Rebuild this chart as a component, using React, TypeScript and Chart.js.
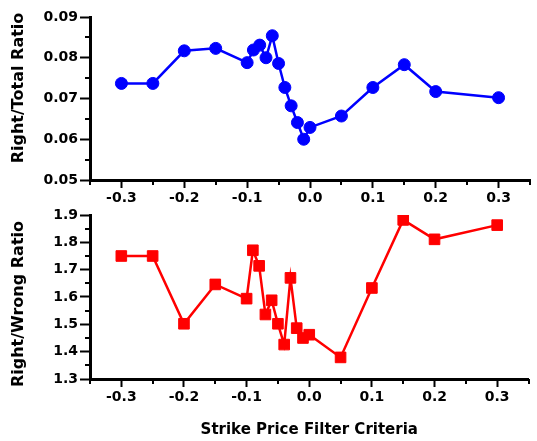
import React, { useEffect, useRef } from 'react';
import { Chart, registerables } from 'chart.js';

Chart.register(...registerables);

// ---- data ----
const strikeCriteria = [-0.3, -0.25, -0.2, -0.15, -0.1, -0.09, -0.08, -0.07, -0.06, -0.05, -0.04, -0.03, -0.02, -0.01, 0.0, 0.05, 0.1, 0.15, 0.2, 0.3];
const rightTotalRatio = [0.0737, 0.0737, 0.0817, 0.0823, 0.0788, 0.0819, 0.0831, 0.08, 0.0854, 0.0786, 0.0727, 0.0682, 0.0641, 0.06, 0.0629, 0.0657, 0.0727, 0.0783, 0.0717, 0.0702];
const rightWrongRatio = [1.75, 1.75, 1.502, 1.646, 1.594, 1.771, 1.714, 1.536, 1.588, 1.502, 1.426, 1.67, 1.486, 1.45, 1.462, 1.379, 1.633, 1.882, 1.811, 1.863];

// ---- axes ----
const xRange = [-0.35, 0.35];
const xMajorStep = 0.1;
const topYRange = [0.05, 0.09];
const topYMajorStep = 0.01;
const bottomYRange = [1.3, 1.9];
const bottomYMajorStep = 0.1;

const xTitle = 'Strike Price Filter Criteria';
const topYTitle = 'Right/Total Ratio';
const bottomYTitle = 'Right/Wrong Ratio';

const FONT = 'DejaVu Sans';

const isMajor = (v: number, step: number) => Math.abs(v / step - Math.round(v / step)) < 1e-6;

const minorTickPlugin = {
  id: 'minorTicks',
  afterDraw(chart: any) {
    const ctx = chart.ctx;
    const majors: any = chart.options.plugins.minorTicks || {};
    ctx.save();
    ctx.strokeStyle = '#000';
    ctx.lineWidth = 2;
    for (const id of ['x', 'y']) {
      const s = chart.scales[id];
      const step = majors[id];
      s.ticks.forEach((t: any) => {
        if (isMajor(t.value, step)) return;
        const p = Math.round(s.getPixelForValue(t.value));
        ctx.beginPath();
        if (s.isHorizontal()) {
          ctx.moveTo(p, s.top);
          ctx.lineTo(p, s.top + 5);
        } else {
          ctx.moveTo(s.right - 5, p);
          ctx.lineTo(s.right, p);
        }
        ctx.stroke();
      });
    }
    ctx.restore();
  },
};

const yTitlePlugin = {
  id: 'yTitleText',
  afterDraw(chart: any) {
    const o = chart.options.plugins.yTitleText;
    if (!o) return;
    const ctx = chart.ctx;
    ctx.save();
    ctx.translate(o.x, o.y);
    ctx.rotate(-Math.PI / 2);
    ctx.font = `bold ${o.size}px "${FONT}"`;
    ctx.fillStyle = '#000';
    ctx.textAlign = 'center';
    ctx.textBaseline = 'middle';
    ctx.fillText(o.text, 0, 0);
    ctx.restore();
  },
};

function makeConfig(opts: {
  values: number[];
  color: string;
  pointStyle: string;
  radius: number;
  yRange: number[];
  yMajor: number;
  yDecimals: number;
  yTitle: string;
  yTitlePos: { x: number; y: number };
  padTop: number;
  xHeight: number;
  showXTitle: boolean;
}): any {
  const tickFont = { family: FONT, size: 14, weight: 'bold' as const };
  return {
    type: 'scatter',
    data: {
      datasets: [
        {
          data: strikeCriteria.map((x, i) => ({ x, y: opts.values[i] })),
          showLine: true,
          borderColor: opts.color,
          backgroundColor: opts.color,
          borderWidth: 2.5,
          pointStyle: opts.pointStyle,
          pointRadius: opts.radius,
          pointBorderWidth: 1,
          pointBackgroundColor: opts.color,
          pointBorderColor: opts.color,
          tension: 0,
        },
      ],
    },
    options: {
      animation: false,
      responsive: false,
      maintainAspectRatio: false,
      layout: { padding: { top: opts.padTop, left: 0, right: 0, bottom: 0 } },
      plugins: {
        legend: { display: false },
        tooltip: { enabled: false },
        minorTicks: { x: xMajorStep, y: opts.yMajor },
        yTitleText: { text: opts.yTitle, x: opts.yTitlePos.x, y: opts.yTitlePos.y, size: 16 },
      },
      scales: {
        x: {
          type: 'linear',
          min: xRange[0],
          max: xRange[1],
          afterFit: (s: any) => {
            s.height = opts.xHeight;
          },
          border: { display: true, color: '#000', width: 3 },
          grid: {
            drawOnChartArea: false,
            drawTicks: true,
            tickLength: 8,
            tickWidth: 2,
            tickColor: (c: any) => (c.tick && isMajor(c.tick.value, xMajorStep) ? '#000' : 'rgba(0,0,0,0)'),
          },
          ticks: {
            stepSize: 0.05,
            autoSkip: false,
            maxRotation: 0,
            padding: 2,
            color: '#000',
            font: tickFont,
            callback: (v: number) => {
              if (!isMajor(v, xMajorStep)) return '';
              if (Math.abs(v) < 1e-9) return '0.0';
              return Number(v).toFixed(1);
            },
          },
          title: {
            display: opts.showXTitle,
            text: xTitle,
            color: '#000',
            font: { family: FONT, size: 15, weight: 'bold' },
            padding: { top: 4, bottom: 2 },
          },
        },
        y: {
          type: 'linear',
          min: opts.yRange[0],
          max: opts.yRange[1],
          afterFit: (s: any) => {
            s.width = 90;
          },
          border: { display: true, color: '#000', width: 3 },
          grid: {
            drawOnChartArea: false,
            drawTicks: true,
            tickLength: 10,
            tickWidth: 2,
            tickColor: (c: any) => (c.tick && isMajor(c.tick.value, opts.yMajor) ? '#000' : 'rgba(0,0,0,0)'),
          },
          ticks: {
            stepSize: opts.yMajor / 2,
            autoSkip: false,
            padding: 2,
            color: '#000',
            font: tickFont,
            callback: (v: number) => (isMajor(v, opts.yMajor) ? Number(v).toFixed(opts.yDecimals) : ''),
          },
          title: { display: false },
        },
      },
    },
    plugins: [minorTickPlugin, yTitlePlugin],
  };
}

export default function App() {
  const topRef = useRef<HTMLCanvasElement>(null);
  const bottomRef = useRef<HTMLCanvasElement>(null);

  useEffect(() => {
    const top = new Chart(
      topRef.current as HTMLCanvasElement,
      makeConfig({
        values: rightTotalRatio,
        color: '#0000FF',
        pointStyle: 'circle',
        radius: 6,
        yRange: topYRange,
        yMajor: topYMajorStep,
        yDecimals: 2,
        yTitle: topYTitle,
        yTitlePos: { x: 19, y: 88 },
        padTop: 17,
        xHeight: 32,
        showXTitle: false,
      })
    );
    const bottom = new Chart(
      bottomRef.current as HTMLCanvasElement,
      makeConfig({
        values: rightWrongRatio,
        color: '#FF0000',
        pointStyle: 'rect',
        radius: 7.5,
        yRange: bottomYRange,
        yMajor: bottomYMajorStep,
        yDecimals: 1,
        yTitle: bottomYTitle,
        yTitlePos: { x: 19, y: 104 },
        padTop: 15,
        xHeight: 62,
        showXTitle: true,
      })
    );
    return () => {
      top.destroy();
      bottom.destroy();
    };
  }, []);

  return (
    <div style={{ position: 'absolute', left: 0, top: 0, width: 537, height: 441, background: '#fff' }}>
      <canvas ref={topRef} width={537} height={212} style={{ position: 'absolute', left: 0, top: 0 }} />
      <canvas ref={bottomRef} width={537} height={241} style={{ position: 'absolute', left: 0, top: 200 }} />
    </div>
  );
}
